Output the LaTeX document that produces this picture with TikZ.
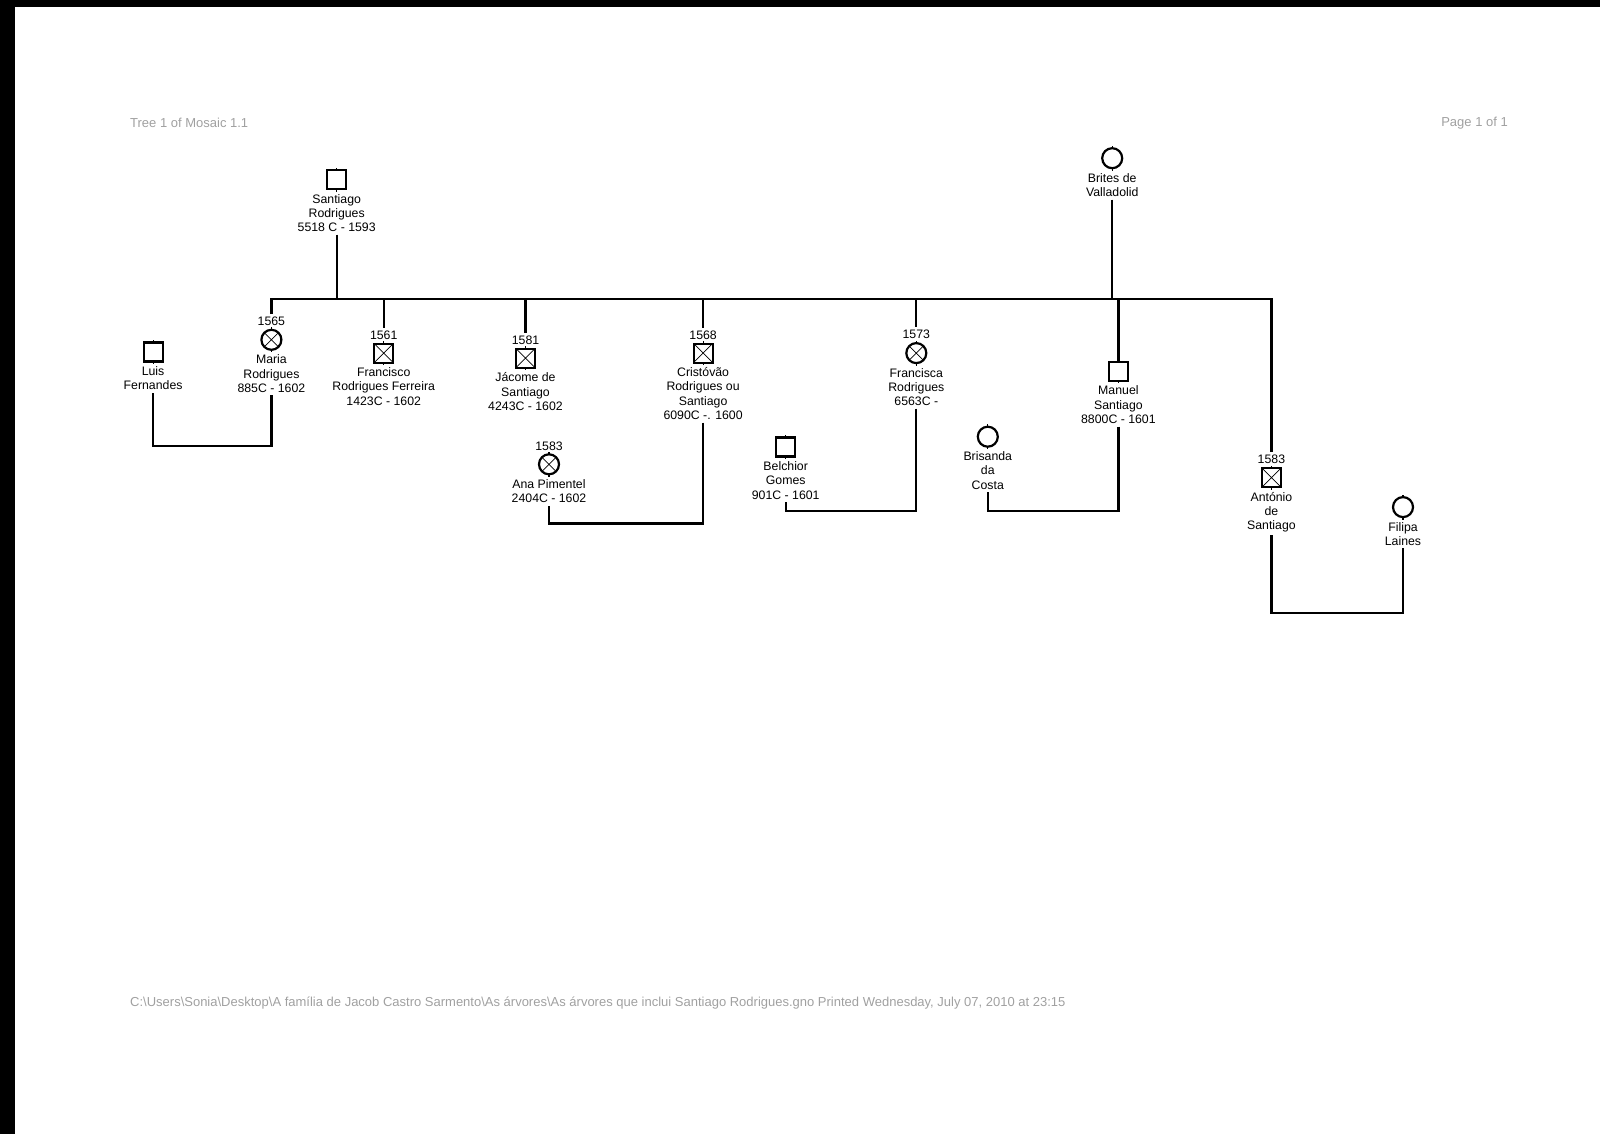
\documentclass[tikz,border=0pt]{standalone}
\usepackage{fontspec}
\setmainfont{Liberation Sans}
\usetikzlibrary{positioning}
\definecolor{scangray}{RGB}{160,160,160}
\tikzset{
  person/.style={draw=black, line width=2.2pt, inner sep=0pt, outer sep=0pt,
    append after command={(\tikzlastnode.north) edge[line width=1.2pt] ++(0,-2.5)
      (\tikzlastnode.south) edge[line width=1.2pt] ++(0,2.5)}},
  male/.style={person, rectangle, minimum size=19pt},
  female/.style={person, circle, minimum size=20pt},
  dead/.style={path picture={\draw[line width=0.7pt]
      (path picture bounding box.north west) -- (path picture bounding box.south east)
      (path picture bounding box.north east) -- (path picture bounding box.south west);}},
  lbl/.style={align=center, inner sep=0pt, outer sep=3pt,
    font=\fontsize{12.3}{14.3}\selectfont},
  yr/.style={inner sep=0pt, outer sep=3pt, font=\fontsize{12.3}{14.3}\selectfont},
  hdr/.style={inner sep=0pt, text=scangray, font=\fontsize{13}{15}\selectfont},
  link/.style={line width=2.2pt, color=black}
}

\begin{document}
\begin{tikzpicture}[x=1pt, y=-1pt]
  \useasboundingbox (0,0) rectangle (1600,1134);
  % scan edges
  \fill[black] (0,0) rectangle (15,1134);
  \fill[black] (0,0) rectangle (1600,7);

  % header and footer
  \node[hdr, anchor=west] (title) at (130,123) {Tree 1 of Mosaic 1.1};
  \node[hdr, anchor=east] (page) at (1508,123) {Page 1 of 1};
  \node[hdr, anchor=west] (path) at (130,1003) {C:\textbackslash Users\textbackslash Sonia\textbackslash Desktop\textbackslash A família de Jacob Castro Sarmento\textbackslash As árvores\textbackslash As árvores que inclui Santiago Rodrigues.gno Printed Wednesday, July 07, 2010 at 23:15};

  % parents
  \node[male] (santiago) at (336.7,179.6) {};
  \node[lbl, below=2pt of santiago] (santiagotxt) {Santiago\\Rodrigues\\5518 C - 1593};
  \node[female] (brites) at (1112.2,158.2) {};
  \node[lbl, below=2pt of brites] (britestxt) {Brites de\\Valladolid};

  % children
  \node[female, dead] (maria) at (271.4,339.8) {};
  \node[yr, above=1pt of maria] (mariayr) {1565};
  \node[lbl, below=2pt of maria] (mariatxt) {Maria\\Rodrigues\\885C - 1602};
  \node[male, dead] (francisco) at (383.7,353.1) {};
  \node[yr, above=1pt of francisco] (franciscoyr) {1561};
  \node[lbl, below=2pt of francisco] (franciscotxt) {Francisco\\Rodrigues Ferreira\\1423C - 1602};
  \node[male, dead] (jacome) at (525.5,358.2) {};
  \node[yr, above=1pt of jacome] (jacomeyr) {1581};
  \node[lbl, below=2pt of jacome] (jacometxt) {Jácome de\\Santiago\\4243C - 1602};
  \node[male, dead] (cristovao) at (703.1,353.1) {};
  \node[yr, above=1pt of cristovao] (cristovaoyr) {1568};
  \node[lbl, below=2pt of cristovao] (cristovaotxt) {Cristóvão\\Rodrigues ou\\Santiago\\6090C -. 1600};
  \node[female, dead] (francisca) at (916.3,353.1) {};
  \node[yr, above=1pt of francisca] (franciscayr) {1573};
  \node[lbl, below=2pt of francisca] (franciscatxt) {Francisca\\Rodrigues\\6563C -};
  \node[male] (manuel) at (1118.4,371.4) {};
  \node[lbl, below=2pt of manuel] (manueltxt) {Manuel\\Santiago\\8800C - 1601};
  \node[male, dead] (antonio) at (1271.4,477.6) {};
  \node[yr, above=1pt of antonio] (antonioyr) {1583};
  \node[lbl, below=2pt of antonio] (antoniotxt) {António\\de\\Santiago};

  % spouses
  \node[male] (luis) at (153.1,352) {};
  \node[lbl, below=2pt of luis] (luistxt) {Luis\\Fernandes};
  \node[female, dead] (ana) at (549,464.3) {};
  \node[yr, above=1pt of ana] (anayr) {1583};
  \node[lbl, below=2pt of ana] (anatxt) {Ana Pimentel\\2404C - 1602};
  \node[male] (belchior) at (785.7,447) {};
  \node[lbl, below=2pt of belchior] (belchiortxt) {Belchior\\Gomes\\901C - 1601};
  \node[female] (brisanda) at (987.8,436.7) {};
  \node[lbl, below=2pt of brisanda] (brisandatxt) {Brisanda\\da\\Costa};
  \node[female] (filipa) at (1403,507.1) {};
  \node[lbl, below=2pt of filipa] (filipatxt) {Filipa\\Laines};

  % sibling bus
  \coordinate (bus) at (0,299);
  \draw[link] (mariayr.north) -- (mariayr.north |- bus) -- (antonioyr.north |- bus) -- (antonioyr.north);
  \draw[link] (santiagotxt.south) -- (santiagotxt.south |- bus);
  \draw[link] (britestxt.south) -- (britestxt.south |- bus);
  \foreach \k in {franciscoyr, jacomeyr, cristovaoyr, franciscayr, manuel}
    \draw[link] (\k.north |- bus) -- (\k.north);

  % marriages
  \coordinate (w1) at (0,446);
  \coordinate (w2) at (0,523.5);
  \coordinate (w3) at (0,511.2);
  \coordinate (w4) at (0,613.3);
  \draw[link] (mariatxt.south) -- (mariatxt.south |- w1) -| (luistxt.south);
  \draw[link] (cristovaotxt.south) -- (cristovaotxt.south |- w2) -| (anatxt.south);
  \draw[link] (franciscatxt.south) -- (franciscatxt.south |- w3) -| (belchiortxt.south);
  \draw[link] (manueltxt.south) -- (manueltxt.south |- w3) -| (brisandatxt.south);
  \draw[link] (antoniotxt.south) -- (antoniotxt.south |- w4) -| (filipatxt.south);
\end{tikzpicture}
\end{document}
